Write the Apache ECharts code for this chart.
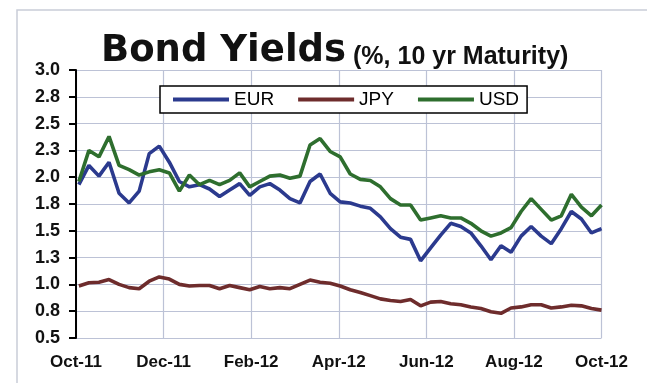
<!DOCTYPE html>
<html><head><meta charset="utf-8">
<script src="https://cdn.jsdelivr.net/npm/echarts@6/dist/echarts.min.js"></script>
<style>html,body{margin:0;padding:0;background:#fff}#c{width:647px;height:383px}</style>
</head><body><div id="c"></div>
<script>
const dates = ['2011-10-03','2011-10-10','2011-10-17','2011-10-24','2011-10-31','2011-11-07','2011-11-14','2011-11-21','2011-11-28',
'2011-12-05','2011-12-12','2011-12-19','2011-12-26','2012-01-02','2012-01-09','2012-01-16','2012-01-23','2012-01-30',
'2012-02-06','2012-02-13','2012-02-20','2012-02-27','2012-03-05','2012-03-12','2012-03-19','2012-03-26',
'2012-04-02','2012-04-09','2012-04-16','2012-04-23','2012-04-30','2012-05-07','2012-05-14','2012-05-21','2012-05-28',
'2012-06-04','2012-06-11','2012-06-18','2012-06-25','2012-07-02','2012-07-09','2012-07-16','2012-07-23','2012-07-30',
'2012-08-06','2012-08-13','2012-08-20','2012-08-27','2012-09-03','2012-09-10','2012-09-17','2012-09-24','2012-10-01'];
const eur = [1.93,2.11,2.01,2.14,1.85,1.76,1.87,2.22,2.29,2.14,1.96,1.91,1.93,1.89,1.82,1.88,1.94,1.83,1.91,1.94,1.88,1.80,1.76,1.96,2.03,1.85,1.77,1.76,1.73,1.71,1.63,1.52,1.44,1.42,1.22,1.34,1.46,1.57,1.54,1.48,1.36,1.23,1.36,1.30,1.45,1.54,1.45,1.38,1.52,1.68,1.61,1.48,1.52];
const jpy = [0.985,1.015,1.02,1.045,1.0,0.97,0.96,1.03,1.07,1.05,1.0,0.985,0.99,0.99,0.96,0.99,0.97,0.95,0.98,0.96,0.97,0.96,1.0,1.04,1.02,1.01,0.985,0.95,0.925,0.895,0.865,0.85,0.84,0.86,0.80,0.835,0.84,0.82,0.81,0.79,0.775,0.745,0.73,0.78,0.79,0.81,0.81,0.78,0.79,0.805,0.80,0.775,0.76];
const usd = [1.96,2.25,2.19,2.38,2.11,2.07,2.02,2.05,2.07,2.04,1.87,2.02,1.93,1.97,1.93,1.97,2.04,1.91,1.96,2.01,2.02,1.99,2.01,2.30,2.36,2.24,2.19,2.03,1.98,1.97,1.91,1.80,1.74,1.74,1.60,1.62,1.64,1.62,1.62,1.57,1.50,1.45,1.48,1.53,1.68,1.80,1.70,1.60,1.64,1.84,1.72,1.64,1.74];
const xTickLabels = ['Oct-11','Dec-11','Feb-12','Apr-12','Jun-12','Aug-12','Oct-12'];
const yTickLabels = ['0.5','0.8','1.0','1.3','1.5','1.8','2.0','2.3','2.5','2.8','3.0'];

const START = Date.UTC(2011, 9, 1);
const dayOf = s => Math.round((Date.parse(s + 'T00:00:00Z') - START) / 86400000);
const pairs = arr => arr.map((v, i) => [dayOf(dates[i]), v]);

const chart = echarts.init(document.getElementById('c'));
const lineW = 3.6;
chart.setOption({
  backgroundColor: '#fff',
  animation: false,
  title: {
    text: '{a|Bond Yields}{b| (%, 10 yr Maturity)}',
    left: 101, top: 30, padding: 0,
    textStyle: {
      rich: {
        a: { fontFamily: 'DejaVu Sans', fontWeight: 'bold', fontSize: 37, color: '#111', verticalAlign: 'bottom', lineHeight: 40 },
        b: { fontFamily: 'Liberation Sans', fontWeight: 'bold', fontSize: 25, color: '#111', verticalAlign: 'bottom', lineHeight: 36 }
      }
    }
  },
  graphic: [{
    type: 'rect', shape: { x: 17, y: 10, width: 650, height: 400 },
    style: { fill: 'none', stroke: '#c9cdd8', lineWidth: 1.5 }, silent: true, z: -10
  }],
  legend: {
    left: 160, top: 86, padding: [4, 8, 4, 13], itemGap: 24, itemWidth: 56, itemHeight: 4,
    icon: 'rect', borderColor: '#000', borderWidth: 1.5, backgroundColor: '#fff',
    textStyle: { fontFamily: 'Liberation Sans', fontSize: 19, color: '#000' },
    data: ['EUR', 'JPY', 'USD']
  },
  grid: { left: 76, right: 45.5, top: 70, bottom: 45, containLabel: false },
  xAxis: {
    type: 'value', min: 0, max: 366, interval: 61,
    axisLine: { show: false }, axisTick: { show: false },
    splitLine: { show: true, lineStyle: { color: '#bcc2d6', width: 1.2 } },
    axisLabel: {
      margin: 16, fontFamily: 'Liberation Sans', fontWeight: 'bold', fontSize: 17, color: '#111',
      formatter: v => xTickLabels[Math.round(v / 61)] || ''
    }
  },
  yAxis: {
    type: 'value', min: 0.5, max: 3.0, interval: 0.25,
    axisLine: { show: true, lineStyle: { color: '#000', width: 2 } },
    axisTick: { show: true, length: 7, lineStyle: { color: '#000', width: 2 } },
    splitLine: { show: true, lineStyle: { color: '#bcc2d6', width: 1.2 } },
    axisLabel: {
      margin: 16, fontFamily: 'Liberation Sans', fontWeight: 'bold', fontSize: 18, color: '#111',
      formatter: v => yTickLabels[Math.round((v - 0.5) / 0.25)] || ''
    }
  },
  series: [
    { name: 'EUR', type: 'line', data: pairs(eur), showSymbol: false, color: '#2B3A8E', lineStyle: { width: lineW } },
    { name: 'JPY', type: 'line', data: pairs(jpy), showSymbol: false, color: '#6E2C2C', lineStyle: { width: lineW } },
    { name: 'USD', type: 'line', data: pairs(usd), showSymbol: false, color: '#2E6E2E', lineStyle: { width: lineW } }
  ]
});
</script></body></html>
